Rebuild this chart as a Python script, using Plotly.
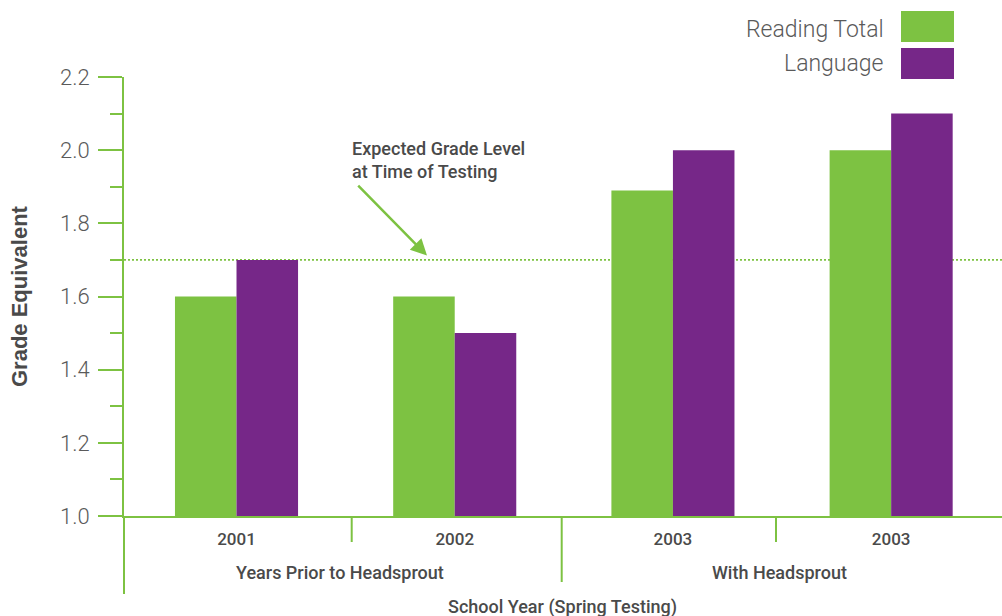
import plotly.graph_objects as go

# ---- data ----
school_years = ["2001", "2002", "2003", "2003"]
x_positions = [0, 1, 2, 3]
reading_total = [1.6, 1.6, 1.89, 2.0]
language = [1.7, 1.5, 2.0, 2.1]
expected_level = 1.7
y_tick_vals = [1.0, 1.2, 1.4, 1.6, 1.8, 2.0, 2.2]
y_tick_text = ["1.0", "1.2", "1.4", "1.6", "1.8", "2.0", "2.2"]
group_labels = ["Years Prior to Headsprout", "With Headsprout"]
group_centers = [0.475, 2.49]
series_names = ["Reading Total", "Language"]

GREEN = "#7dc242"
PURPLE = "#762788"
GRAY_LIGHT = "#5a5a5a"
GRAY_DARK = "#4a4a4a"
LIGHT_FONT = "Roboto"
MED_FONT = "Roboto"

fig = go.Figure()
fig.add_trace(go.Bar(x=x_positions, y=reading_total, name=series_names[0],
                     marker=dict(color=GREEN, line=dict(width=0))))
fig.add_trace(go.Bar(x=x_positions, y=language, name=series_names[1],
                     marker=dict(color=PURPLE, line=dict(width=0))))

W, H = 1002, 616
ml, mr, mt, mb = 124, 0, 77, 100
ph = H - mt - mb
pw = W - ml - mr

def py(pixel_y):
    return (H - mb - pixel_y) / ph

def px(pixel_x):
    return (pixel_x - ml) / pw

shapes = []
# expected grade level dotted line
shapes.append(dict(type="line", xref="paper", yref="y", x0=0, x1=1,
                   y0=expected_level, y1=expected_level, layer="below",
                   line=dict(color=GREEN, width=1.6, dash="2px,2px")))
# y axis extension below x axis
shapes.append(dict(type="line", xref="paper", yref="paper", x0=0, x1=0,
                   y0=0, y1=py(594), line=dict(color=GREEN, width=2)))
# group separators
for sx, sy in [(351.7, 542), (561.7, 582), (776, 542)]:
    shapes.append(dict(type="line", xref="paper", yref="paper", x0=px(sx), x1=px(sx),
                       y0=0, y1=py(sy), line=dict(color=GREEN, width=2)))
# legend swatches
for (y0, y1), col in zip([(11, 42), (48, 79)], [GREEN, PURPLE]):
    shapes.append(dict(type="rect", xref="paper", yref="paper",
                       x0=px(901), x1=px(954), y0=py(y1), y1=py(y0),
                       fillcolor=col, line=dict(width=0)))

annotations = []
# legend labels
for name, cy in zip(series_names, [29, 63]):
    annotations.append(dict(text=name, xref="paper", yref="paper", x=px(886), y=py(cy),
                            xanchor="right", yanchor="middle", showarrow=False,
                            font=dict(family=LIGHT_FONT, size=23, color=GRAY_LIGHT, weight=300)))
# y-axis title
annotations.append(dict(text="<b>Grade Equivalent</b>", xref="paper", yref="paper",
                        x=px(19), y=py(296), textangle=-90, showarrow=False,
                        xanchor="center", yanchor="middle",
                        font=dict(family="Liberation Sans", size=22, color=GRAY_DARK)))
# group labels
for lab, gx in zip(group_labels, group_centers):
    annotations.append(dict(text=lab, xref="x", yref="paper", x=gx, y=py(572),
                            xanchor="center", yanchor="middle", showarrow=False,
                            font=dict(family=MED_FONT, size=18, color=GRAY_DARK, weight=500)))
# x title
annotations.append(dict(text="School Year (Spring Testing)", xref="paper", yref="paper",
                        x=px(562), y=py(607), xanchor="center", yanchor="middle",
                        showarrow=False,
                        font=dict(family=MED_FONT, size=18, color=GRAY_DARK, weight=500)))
# expected grade level label
annotations.append(dict(text="Expected Grade Level<br>at Time of Testing", xref="paper", yref="paper",
                        x=px(350), y=py(136), xanchor="left", yanchor="top", align="left",
                        showarrow=False,
                        font=dict(family=MED_FONT, size=18, color=GRAY_DARK, weight=500)))
# arrow
annotations.append(dict(text="", x=0.873, y=1.712, xref="x", yref="y",
                        ax=0.551, ay=1.907, axref="x", ayref="y",
                        showarrow=True, arrowhead=2, arrowsize=1.3, arrowwidth=2.5,
                        arrowcolor=GREEN))

fig.update_layout(
    width=W, height=H,
    margin=dict(l=ml, r=mr, t=mt, b=mb, pad=0),
    paper_bgcolor="white", plot_bgcolor="white",
    barmode="group", bargap=0.436, bargroupgap=0,
    showlegend=False,
    shapes=shapes, annotations=annotations,
    xaxis=dict(range=[-0.5156, 3.508], tickmode="array", tickvals=x_positions,
               ticktext=school_years, showgrid=False, zeroline=False,
               showline=True, linecolor=GREEN, linewidth=2, ticks="",
               ticklabelstandoff=7,
               tickfont=dict(family=MED_FONT, size=17, color=GRAY_DARK, weight=500)),
    yaxis=dict(range=[1.0, 2.2], tickmode="array", tickvals=y_tick_vals,
               ticktext=y_tick_text, showgrid=False, zeroline=False,
               showline=True, linecolor=GREEN, linewidth=2,
               ticks="outside", ticklen=24, tickwidth=2, tickcolor=GREEN,
               minor=dict(dtick=0.1, tick0=1.0, ticks="outside", ticklen=12,
                          tickwidth=2, tickcolor=GREEN, showgrid=False),
               ticklabelstandoff=4,
               tickfont=dict(family=LIGHT_FONT, size=22, color=GRAY_LIGHT, weight=300)),
)

fig.write_html("out.html")
